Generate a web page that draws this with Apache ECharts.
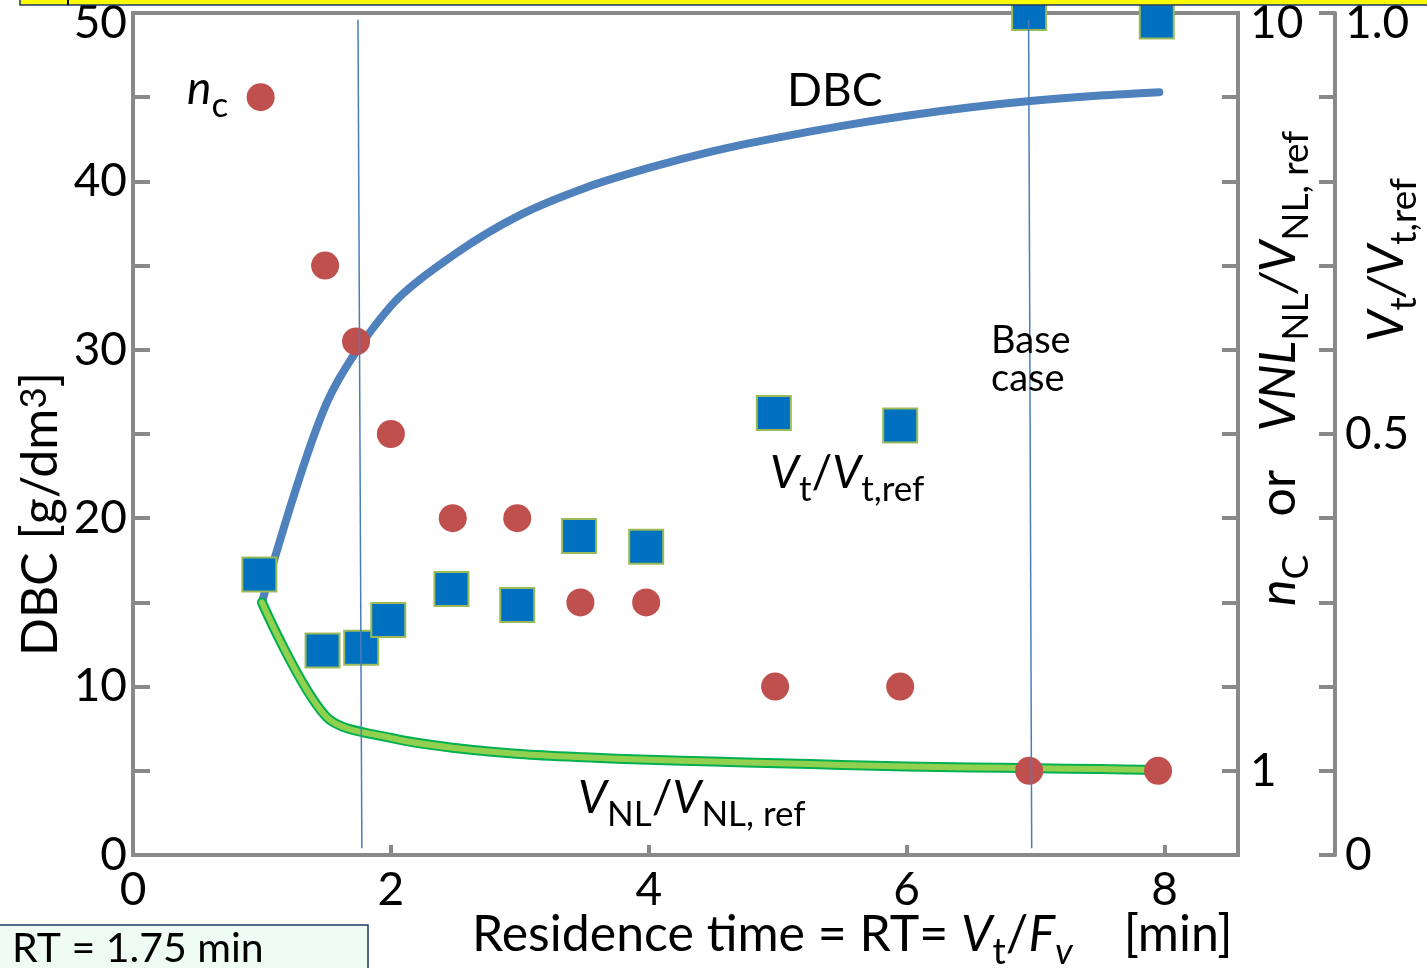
<!DOCTYPE html>
<html>
<head>
<meta charset="utf-8">
<script src="https://cdn.jsdelivr.net/npm/echarts@6/dist/echarts.min.js"></script>
<style>
  html, body { margin: 0; padding: 0; background: #fff; }
  #main { width: 1427px; height: 968px; }
</style>
</head>
<body>
<div id="main"></div>
<script>
// residence time [min] for each series
const rtNc = [0.99, 1.49, 1.73, 2.0, 2.48, 2.98, 3.47, 3.98, 4.98, 5.95, 6.95, 7.95]
const ncValues = [9, 7, 6.1, 5, 4, 4, 3, 3, 2, 2, 1, 1]

const rtVt = [0.98, 1.47, 1.77, 1.98, 2.47, 2.98, 3.46, 3.98, 4.97, 5.95, 6.95, 7.94]
const vtRatio = [0.333, 0.243, 0.246, 0.279, 0.316, 0.297, 0.379, 0.366, 0.525, 0.51, 1.0, 0.99]

const rtCurve = [1.0, 1.5, 2.0, 2.5, 3.0, 3.5, 4.0, 4.5, 5.0, 5.5, 6.0, 6.5, 7.0, 7.5, 7.96]
const dbcValues = [15, 26.8, 32.6, 35.7, 38.0, 39.6, 40.8, 41.8, 42.6, 43.3, 43.9, 44.4, 44.8, 45.1, 45.3]
const vnlRatio = [3.0, 1.64, 1.39, 1.27, 1.2, 1.16, 1.13, 1.11, 1.09, 1.07, 1.05, 1.04, 1.03, 1.02, 1.01]

// thin vertical markers (RT = 1.75 min and base case)
const markerRT = [[1.745, 49.6], [1.775, 0.4]]
const markerBase = [[6.946, 49.6], [6.97, 0.4]]

const pair = (xs, ys) => xs.map((x, i) => [x, ys[i]])

const FONT = 'Lato, "Open Sans", sans-serif'
const AXIS = '#898989'

var myChart = echarts.init(document.getElementById('main'))

// rich styles for sub scripts
function richSet(size, sub, drop) {
  return {
    m: { fontFamily: FONT, fontSize: size, lineHeight: size, verticalAlign: 'top', color: '#000' },
    i: { fontFamily: FONT, fontSize: size, lineHeight: size, verticalAlign: 'top', fontStyle: 'italic', color: '#000' },
    s: { fontFamily: FONT, fontSize: sub, lineHeight: sub, verticalAlign: 'top', padding: [drop, 0, 0, 0], color: '#000' },
    si: { fontFamily: FONT, fontSize: sub, lineHeight: sub, verticalAlign: 'top', padding: [drop, 0, 0, 0], fontStyle: 'italic', color: '#000' },
    sup: { fontFamily: FONT, fontSize: sub, lineHeight: sub, verticalAlign: 'top', color: '#000' },
  }
}
const rich46 = richSet(46, 35, 22)
const rich50 = richSet(50, 37, 24)

// top tick labels sit a little lower, inside the picture
const labelRich = { top: { fontFamily: FONT, fontSize: 46, color: '#000', padding: [20, 0, 0, 0] } }

function txt(x, y, text, rich, extra) {
  return Object.assign({
    type: 'text',
    x: x,
    y: y,
    z: 50,
    style: { text: text, rich: rich || rich46, fill: '#000', textVerticalAlign: 'top' },
  }, extra || {})
}

function curve(name, yAxisIndex, values, color, width, z) {
  return {
    name: name,
    type: 'line',
    yAxisIndex: yAxisIndex,
    smooth: 0.3,
    showSymbol: false,
    data: pair(rtCurve, values),
    lineStyle: { color: color, width: width, cap: 'round', join: 'round' },
    z: z,
  }
}

var option = {
  animation: false,
  grid: {
    left: 133,
    right: 189,
    top: 13,
    bottom: 113,
    outerBoundsMode: 'none',
    show: true,
    borderColor: AXIS,
    borderWidth: 4,
  },
  xAxis: {
    type: 'value',
    min: 0,
    max: 8.57,
    interval: 2,
    splitLine: { show: false },
    axisLine: { lineStyle: { color: AXIS, width: 4 } },
    axisTick: { inside: true, length: 10, lineStyle: { color: AXIS, width: 4 } },
    axisLabel: {
      margin: 12,
      fontFamily: FONT,
      fontSize: 46,
      color: '#000',
      formatter: function (v) {
        return Math.abs(v % 2) < 1e-6 ? String(v) : ''
      },
    },
  },
  yAxis: [
    {
      type: 'value',
      min: 0,
      max: 50,
      interval: 5,
      splitLine: { show: false },
      axisLine: { show: true, lineStyle: { color: AXIS, width: 4 } },
      axisTick: { inside: true, length: 17, lineStyle: { color: AXIS, width: 4 } },
      axisLabel: {
        margin: 6,
        fontFamily: FONT,
        fontSize: 46,
        color: '#000',
        rich: labelRich,
        formatter: function (v) {
          if (v === 50) return '{top|50}'
          return v % 10 === 0 ? String(v) : ''
        },
      },
    },
    {
      type: 'value',
      position: 'right',
      min: 0,
      max: 10,
      interval: 1,
      splitLine: { show: false },
      axisLine: { show: true, lineStyle: { color: AXIS, width: 4 } },
      axisTick: { inside: true, length: 16, lineStyle: { color: AXIS, width: 4 } },
      axisLabel: {
        margin: 12,
        fontFamily: FONT,
        fontSize: 46,
        color: '#000',
        rich: labelRich,
        formatter: function (v) {
          if (v === 10) return '{top|10}'
          return v === 1 ? '1' : ''
        },
      },
    },
    {
      type: 'value',
      position: 'right',
      offset: 97,
      min: 0,
      max: 1,
      interval: 0.1,
      splitLine: { show: false },
      axisLine: { show: true, lineStyle: { color: AXIS, width: 4 } },
      axisTick: { inside: true, length: 16, lineStyle: { color: AXIS, width: 4 } },
      axisLabel: {
        margin: 10,
        fontFamily: FONT,
        fontSize: 46,
        color: '#000',
        rich: labelRich,
        formatter: function (v) {
          if (Math.abs(v) < 1e-6) return '0'
          if (Math.abs(v - 0.5) < 1e-6) return '0.5'
          if (Math.abs(v - 1) < 1e-6) return '{top|1.0}'
          return ''
        },
      },
    },
  ],
  series: [
    curve('DBC', 0, dbcValues, '#4f81bd', 8, 2),
    curve('VNL outline', 1, vnlRatio, '#00b050', 10, 3),
    curve('VNL', 1, vnlRatio, '#92d050', 6, 4),
    {
      name: 'nc',
      type: 'scatter',
      yAxisIndex: 1,
      symbol: 'circle',
      symbolSize: 28,
      data: pair(rtNc, ncValues),
      itemStyle: { color: '#c0504d', opacity: 1 },
      z: 5,
    },
    {
      name: 'Vt',
      type: 'scatter',
      yAxisIndex: 2,
      symbol: 'rect',
      symbolSize: 34,
      clip: false,
      data: pair(rtVt, vtRatio),
      itemStyle: { color: '#0070c0', borderColor: '#9bbb59', borderWidth: 2, opacity: 1 },
      z: 6,
    },
    {
      type: 'line',
      yAxisIndex: 0,
      showSymbol: false,
      data: markerRT,
      lineStyle: { color: '#4a7ebb', width: 1.5 },
      z: 7,
    },
    {
      type: 'line',
      yAxisIndex: 0,
      showSymbol: false,
      data: markerBase,
      lineStyle: { color: '#4a7ebb', width: 1.5 },
      z: 7,
    },
  ],
  graphic: [
    // cut-off yellow banner at the top
    {
      type: 'rect',
      shape: { x: 20, y: -2, width: 1420, height: 7 },
      style: { fill: '#ffff00', stroke: '#1f3864', lineWidth: 1.5 },
      z: 100,
    },
    {
      type: 'rect',
      shape: { x: 67, y: 0, width: 2, height: 5 },
      style: { fill: '#000' },
      z: 101,
    },
    // RT box
    {
      type: 'rect',
      shape: { x: -2, y: 925, width: 370, height: 50 },
      style: { fill: '#effcf3', stroke: '#1f3864', lineWidth: 1.5 },
      z: 100,
    },
    { type: 'text', x: 12, y: 928, z: 101, style: { text: 'RT = 1.75 min', font: '41px ' + FONT, fill: '#000', textVerticalAlign: 'top' } },
    // axis titles
    txt(16, 656, '{m|DBC [g/dm}{sup|3}{m|]}', rich50, { rotation: Math.PI / 2 }),
    txt(472, 910, '{m|Residence time = RT= }{i|V}{s|t}{m|/}{i|F}{si|v}{m|    [min]}', rich50),
    txt(1254, 606, '{i|n}{s|C}{m|   or   }{i|VNL}{s|NL}{i|/V}{s|NL, ref}', rich50, { rotation: Math.PI / 2 }),
    txt(1362, 342, '{i|V}{s|t}{i|/V}{s|t,ref}', rich50, { rotation: Math.PI / 2 }),
    // in-plot labels
    txt(187, 66, '{i|n}{s|c}'),
    txt(787, 68, '{m|DBC}'),
    txt(770, 450, '{i|V}{s|t}{m|/}{i|V}{s|t,ref}'),
    txt(578, 775, '{i|V}{s|NL}{m|/}{i|V}{s|NL, ref}'),
    { type: 'text', x: 991, y: 322, z: 50, style: { text: 'Base\ncase', font: '38px ' + FONT, lineHeight: 38, fill: '#000', textVerticalAlign: 'top' } },
  ],
}

myChart.setOption(option)
</script>
</body>
</html>
